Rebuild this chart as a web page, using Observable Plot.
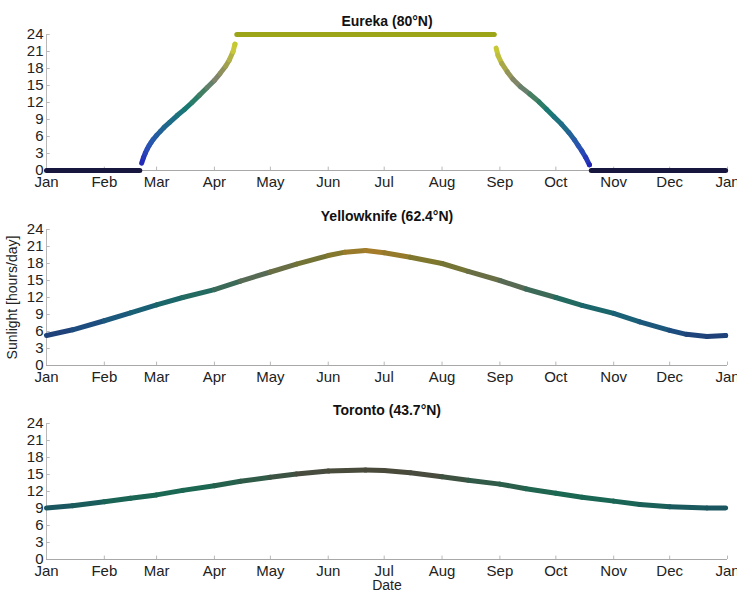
<!DOCTYPE html>
<html><head><meta charset="utf-8">
<script src="https://cdn.jsdelivr.net/npm/d3@7"></script>
<script src="https://cdn.jsdelivr.net/npm/@observablehq/plot@0.6"></script>
<style>
body{margin:0;background:#fff;}
#chart{width:737px;}
#chart svg{display:block;}
</style>
</head><body><div id="chart"></div>
<script>
// ---- tick values ----
const monthTicks = ["2013-01-01","2013-02-01","2013-03-01","2013-04-01","2013-05-01","2013-06-01","2013-07-01","2013-08-01","2013-09-01","2013-10-01","2013-11-01","2013-12-01","2014-01-01"];
const yTicks = [0,3,6,9,12,15,18,21,24];

// ---- Eureka (80°N) ----
const eurekaDates = ["2013-01-01","2013-02-20",
  "2013-02-21","2013-02-22","2013-02-23","2013-02-24","2013-02-25","2013-02-26","2013-02-27","2013-03-01","2013-03-03","2013-03-05","2013-03-08","2013-03-12","2013-03-16","2013-03-20","2013-03-24","2013-03-28","2013-04-01","2013-04-04","2013-04-07","2013-04-09","2013-04-11","2013-04-12",
  "2013-04-13","2013-08-29",
  "2013-08-30","2013-08-31","2013-09-02","2013-09-05","2013-09-08","2013-09-12","2013-09-17","2013-09-22","2013-09-26","2013-09-30","2013-10-04","2013-10-08","2013-10-11","2013-10-13","2013-10-15","2013-10-17","2013-10-19",
  "2013-10-20","2013-12-31"];
const eurekaHours = [0,0,
  1.3,2.3,3.1,3.8,4.4,4.9,5.4,6.2,6.9,7.6,8.5,9.7,10.8,12.0,13.3,14.6,15.9,17.1,18.4,19.5,21.0,22.3,
  24,24,
  21.6,20.3,18.9,17.4,16.1,14.8,13.5,12.1,10.8,9.5,8.2,6.7,5.4,4.4,3.4,2.3,1.0,
  0,0];

// ---- Yellowknife (62.4°N) ----
const yellowknifeDates = ["2013-01-01","2013-01-15","2013-02-01","2013-02-15","2013-03-01","2013-03-15","2013-04-01","2013-04-15","2013-05-01","2013-05-15","2013-06-01","2013-06-10","2013-06-21","2013-07-01","2013-07-15","2013-08-01","2013-08-15","2013-09-01","2013-09-15","2013-10-01","2013-10-15","2013-11-01","2013-11-15","2013-12-01","2013-12-10","2013-12-21","2013-12-31"];
const yellowknifeHours = [5.3,6.3,7.9,9.3,10.7,12.0,13.4,14.9,16.5,17.9,19.4,20.0,20.3,19.9,19.1,18.0,16.6,15.0,13.5,12.0,10.6,9.2,7.7,6.2,5.5,5.1,5.3];

// ---- Toronto (43.7°N) ----
const torontoDates = ["2013-01-01","2013-01-15","2013-02-01","2013-02-15","2013-03-01","2013-03-15","2013-04-01","2013-04-15","2013-05-01","2013-05-15","2013-06-01","2013-06-21","2013-07-01","2013-07-15","2013-08-01","2013-08-15","2013-09-01","2013-09-15","2013-10-01","2013-10-15","2013-11-01","2013-11-15","2013-12-01","2013-12-21","2013-12-31"];
const torontoHours = [9.1,9.5,10.2,10.8,11.4,12.2,13.0,13.8,14.5,15.1,15.6,15.8,15.7,15.3,14.6,14.0,13.3,12.5,11.7,11.0,10.3,9.7,9.3,9.1,9.1];

const FONT = "'Liberation Sans', Arial, Helvetica, sans-serif";
const xStart = new Date("2013-01-01"), xEnd = new Date("2014-01-01");

function table(dates, hours) {
  let seg = 0;
  return dates.map((d, i) => {
    const h = hours[i];
    if (i > 0) {
      const p = hours[i-1];
      const plPrev = p === 0 || p === 24, plCur = h === 0 || h === 24;
      if (plPrev !== plCur) seg++;
    }
    return {date: new Date(d), h, seg};
  });
}

function panel({title, dates, hours, cDomain, cRange, height, mt, mb, yLabel, xLabel}) {
  const data = table(dates, hours);
  const marks = [
    Plot.ruleX([xStart], {y1: 0, y2: 24, stroke: "#b8b8b8", strokeWidth: 1}),
    Plot.ruleY(yTicks, {x1: xStart, x2: new Date("2013-01-03"), stroke: "#b8b8b8"}),
    Plot.ruleX(monthTicks.map(d => new Date(d)), {y1: 0, y2: 0.6, stroke: "#b8b8b8"}),
    Plot.ruleY([0], {x1: xStart, x2: xEnd, stroke: "#a8a8a8", strokeWidth: 1}),
    Plot.axisY({ticks: yTicks, tickSize: 0, tickPadding: 3, label: null, fill: "#222"}),
    Plot.axisX({ticks: monthTicks.map(d => new Date(d)), tickFormat: d3.utcFormat("%b"), tickSize: 0, tickPadding: 6, label: null, fill: "#222"}),
    Plot.line(data, {x: "date", y: "h", z: "seg", stroke: "h", strokeWidth: 5, strokeLinecap: "round", strokeLinejoin: "round"}),
    Plot.text([title], {frameAnchor: "top", dy: -18, fontWeight: "bold", fontSize: 14, fill: "#111"})
  ];
  if (yLabel) marks.push(Plot.text([yLabel], {frameAnchor: "left", textAnchor: "middle", dx: -34, rotate: -90, fontSize: 14, fill: "#222"}));
  if (xLabel) marks.push(Plot.text([xLabel], {frameAnchor: "bottom", textAnchor: "middle", dy: 30, fontSize: 14, fill: "#222"}));
  return Plot.plot({
    width: 737, height,
    marginLeft: 46, marginRight: 10, marginTop: mt, marginBottom: mb,
    style: {fontFamily: FONT, fontSize: "15px", background: "#fff", overflow: "visible"},
    x: {type: "utc", domain: [xStart, xEnd]},
    y: {domain: [0, 24]},
    color: {type: "linear", domain: cDomain, range: cRange},
    marks
  });
}

const el = document.getElementById("chart");
el.appendChild(panel({
  title: "Eureka (80°N)", dates: eurekaDates, hours: eurekaHours,
  cDomain: [0, 1, 4, 8, 11, 13, 15.5, 18, 21, 23, 24],
  cRange: ["#16163f","#2326b8","#2a50b8","#1f6a8a","#197a70","#3a7f60","#7a8070","#9a9a50","#c8c838","#c0c830","#9ca418"],
  height: 195, mt: 34, mb: 25
}));
el.appendChild(panel({
  title: "Yellowknife (62.4°N)", dates: yellowknifeDates, hours: yellowknifeHours,
  cDomain: [5, 6.5, 9, 11.5, 13.5, 15.5, 17.5, 19.3, 20.3],
  cRange: ["#1f3f78","#1d4f80","#1a5f78","#1a6a62","#3d6a58","#626a52","#6f7238","#80782c","#a47c2a"],
  height: 195, mt: 34, mb: 25, yLabel: "Sunlight [hours/day]"
}));
el.appendChild(panel({
  title: "Toronto (43.7°N)", dates: torontoDates, hours: torontoHours,
  cDomain: [9, 10, 12, 14, 15, 15.8],
  cRange: ["#1a5560","#1a6355","#1a6852","#325a48","#464c3e","#4a4a3a"],
  height: 202, mt: 33, mb: 33, xLabel: "Date"
}));
</script>
</body></html>
